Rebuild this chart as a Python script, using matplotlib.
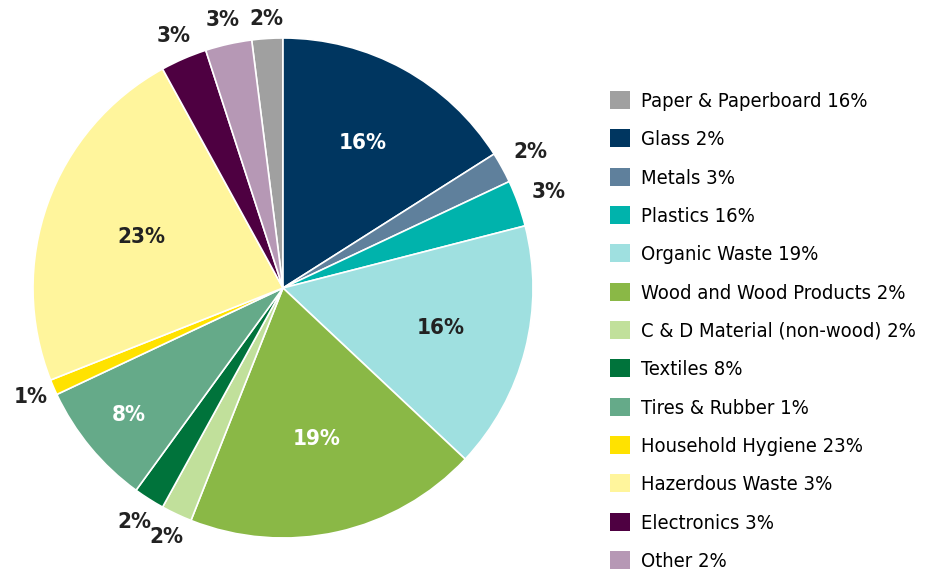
import numpy as np
import matplotlib.pyplot as plt

# wedge values (clockwise, gray slice ends at 12 o'clock)
values = [2, 16, 2, 3, 16, 19, 2, 2, 8, 1, 23, 3, 3]
colors = ['#a0a0a0', '#003660', '#5f809c', '#00b3ac', '#9fe0e0', '#8ab846',
          '#c1e09b', '#00733b', '#65aa89', '#ffe200', '#fff59c', '#4e0041', '#b698b5']
pct_labels = ['2%', '16%', '2%', '3%', '16%', '19%', '2%', '2%', '8%', '1%', '23%', '3%', '3%']
legend_labels = ['Paper & Paperboard 16%', 'Glass 2%', 'Metals 3%', 'Plastics 16%',
                 'Organic Waste 19%', 'Wood and Wood Products 2%', 'C & D Material (non-wood) 2%',
                 'Textiles 8%', 'Tires & Rubber 1%', 'Household Hygiene 23%',
                 'Hazerdous Waste 3%', 'Electronics 3%', 'Other 2%']

# label placement: radius factor and text colour per wedge
label_r = [1.08, 0.66, 1.13, 1.13, 0.65, 0.62, 1.1, 1.11, 0.8, 1.1, 0.6, 1.1, 1.1]
label_c = ['#222222', 'white', '#222222', '#222222', '#222222', 'white', '#222222',
           '#222222', 'white', '#222222', '#222222', '#222222', '#222222']

plt.rcParams['font.family'] = ['DejaVu Sans']

fig = plt.figure(figsize=(9.28, 5.73), dpi=100)
ax = fig.add_axes([33 / 928, 35 / 573, 500 / 928, 500 / 573])

start = 90 + values[0] / sum(values) * 360
wedges, _ = ax.pie(values, colors=colors, startangle=start, counterclock=False,
                   wedgeprops=dict(edgecolor='white', linewidth=1.2))
ax.set_aspect('equal')
ax.set_xlim(-1, 1)
ax.set_ylim(-1, 1)

for w, lab, r, c in zip(wedges, pct_labels, label_r, label_c):
    ang = np.deg2rad((w.theta1 + w.theta2) / 2)
    ax.text(r * np.cos(ang), r * np.sin(ang), lab, ha='center', va='center',
            fontsize=16, fontweight='bold', color=c, fontstretch='condensed', clip_on=False)

leg = fig.legend(wedges, legend_labels, loc='upper left', bbox_to_anchor=(602 / 928, 1 - 83 / 573),
                 frameon=False, handlelength=1.0, handleheight=1.0, handletextpad=0.55,
                 labelspacing=0.915, borderaxespad=0,
                 prop=dict(size=14.5, stretch='condensed'))
for h in leg.legend_handles:
    h.set_edgecolor('none')

plt.savefig('out.png')
